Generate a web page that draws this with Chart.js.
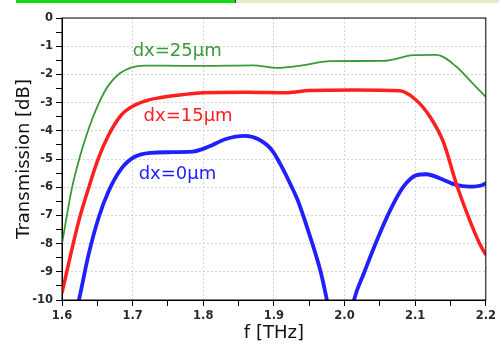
<!DOCTYPE html>
<html>
<head>
<meta charset="utf-8">
<script src="https://cdn.jsdelivr.net/npm/chart.js@4/dist/chart.umd.min.js"></script>
<style>
  body { margin: 0; background: #fff; }
  #wrap { position: relative; width: 499px; height: 344px; }
  #bar-done { position: absolute; left: 16px; top: 0; width: 219px; height: 3px; background: #12dd12; }
  #bar-rest { position: absolute; left: 235px; top: 0; width: 264px; height: 3px; background: #ece9c9; border-left: 1px solid #333; }
</style>
</head>
<body>
<div id="wrap">
  <canvas id="canvas" width="499" height="344"></canvas>
  <div id="bar-done"></div>
  <div id="bar-rest"></div>
</div>
<script>
// dx = 25 um
const freq25 = [1.6, 1.614, 1.626, 1.638, 1.652, 1.666, 1.682, 1.698, 1.717, 1.745, 1.80, 1.87, 1.905, 1.935, 1.98, 2.055, 2.098, 2.13, 2.158, 2.181, 2.2];
const db25   = [-8.0, -6.04, -4.86, -3.91, -3.03, -2.38, -1.96, -1.76, -1.69, -1.69, -1.70, -1.68, -1.77, -1.70, -1.53, -1.52, -1.32, -1.31, -1.72, -2.31, -2.8];

// dx = 15 um
const freq15 = [1.6, 1.61, 1.6235, 1.6375, 1.6515, 1.666, 1.684, 1.703, 1.722, 1.74, 1.76, 1.80, 1.86, 1.92, 1.95, 2.013, 2.078, 2.10, 2.121, 2.14, 2.158, 2.177, 2.191, 2.2];
const db15   = [-9.75, -8.64, -7.22, -6.04, -4.98, -4.15, -3.44, -3.09, -2.91, -2.82, -2.75, -2.65, -2.63, -2.65, -2.57, -2.55, -2.58, -2.88, -3.5, -4.4, -5.86, -7.16, -7.99, -8.4];

// dx = 0 um
const freq0 = [1.6, 1.6245, 1.6375, 1.6516, 1.6656, 1.6843, 1.703, 1.726, 1.75, 1.785, 1.808, 1.831, 1.859, 1.878, 1.897, 1.911, 1.925, 1.934, 1.9527, 1.9667, 1.975, 1.994, 2.0134, 2.0274, 2.046, 2.0647, 2.0834, 2.102, 2.116, 2.1347, 2.158, 2.1767, 2.1955, 2.2];
const db0   = [-12.5, -9.94, -8.4, -7.1, -6.16, -5.33, -4.92, -4.78, -4.76, -4.74, -4.56, -4.30, -4.18, -4.30, -4.68, -5.27, -5.98, -6.48, -7.87, -9.05, -10, -12.5, -10, -9.05, -7.87, -6.81, -5.98, -5.57, -5.54, -5.68, -5.92, -5.98, -5.92, -5.86];

// curve labels, anchored in data units (left edge, vertical middle)
const labelText = ["dx=25µm", "dx=15µm", "dx=0µm"];
const labelFreq = [1.700, 1.7155, 1.7085];
const labelDb   = [-1.17, -3.47, -5.53];
const colors    = ["#3a9a3a", "#ff1f1f", "#1f1fff"];

const pts = (f, d) => f.map((x, i) => ({ x: x, y: d[i] }));
const isMajor = (v, step) => Math.abs(v / step - Math.round(v / step)) < 1e-6;

// box around the plot + the curve names
const framePlugin = {
  id: "frame",
  afterDatasetsDraw(chart) {
    const { ctx, chartArea: a, scales } = chart;
    ctx.save();
    ctx.strokeStyle = "#000";
    ctx.lineWidth = 1;
    ctx.strokeRect(a.left, a.top, a.right - a.left, a.bottom - a.top);
    ctx.font = "18px 'DejaVu Sans'";
    ctx.textBaseline = "middle";
    ctx.textAlign = "left";
    labelText.forEach((t, i) => {
      ctx.fillStyle = colors[i];
      ctx.fillText(t, scales.x.getPixelForValue(labelFreq[i]), scales.y.getPixelForValue(labelDb[i]));
    });
    ctx.restore();
  }
};

const tickFont = { family: "DejaVu Sans", size: 11.5, weight: "bold" };

new Chart(document.getElementById("canvas").getContext("2d"), {
  type: "line",
  data: {
    datasets: [
      { label: labelText[0], data: pts(freq25, db25), borderColor: colors[0], borderWidth: 1.8 },
      { label: labelText[1], data: pts(freq15, db15), borderColor: colors[1], borderWidth: 3.5 },
      { label: labelText[2], data: pts(freq0, db0), borderColor: colors[2], borderWidth: 3.8 }
    ]
  },
  options: {
    responsive: false,
    animation: false,
    layout: { padding: { top: 18, right: 9, left: 0, bottom: 0 } },
    elements: {
      point: { radius: 0 },
      line: { cubicInterpolationMode: "monotone", fill: false }
    },
    datasets: { line: { clip: 0 } },
    plugins: { legend: { display: false }, tooltip: { enabled: false } },
    scales: {
      x: {
        type: "linear",
        min: 1.6,
        max: 2.2,
        afterFit: s => { s.height = 44; },
        ticks: {
          stepSize: 0.05,
          autoSkip: false,
          maxRotation: 0,
          padding: 3,
          color: "#2a2a2a",
          font: tickFont,
          callback: v => isMajor(v, 0.1) ? v.toFixed(1) : ""
        },
        grid: {
          color: c => isMajor(c.tick.value, 0.1) ? "#d4d4d4" : "rgba(0,0,0,0)",
          tickColor: "#000",
          tickLength: 6
        },
        border: { color: "#000", width: 1, dash: [2, 2] },
        title: {
          display: true,
          text: "f [THz]",
          color: "#111",
          font: { family: "DejaVu Sans", size: 18 },
          padding: { top: 0, bottom: 0 }
        }
      },
      y: {
        min: -10,
        max: 0,
        afterFit: s => { s.width = 62; },
        ticks: {
          stepSize: 0.5,
          autoSkip: false,
          padding: 3,
          color: "#2a2a2a",
          font: tickFont,
          callback: v => isMajor(v, 1) ? String(Math.round(v)) : ""
        },
        grid: {
          color: c => isMajor(c.tick.value, 1) ? "#d4d4d4" : "rgba(0,0,0,0)",
          tickColor: "#000",
          tickLength: 6
        },
        border: { color: "#000", width: 1, dash: [2, 2] },
        title: {
          display: true,
          text: "Transmission [dB]",
          color: "#111",
          font: { family: "DejaVu Sans", size: 18 },
          padding: { top: 14, bottom: 0 }
        }
      }
    }
  },
  plugins: [framePlugin]
});
</script>
</body>
</html>
